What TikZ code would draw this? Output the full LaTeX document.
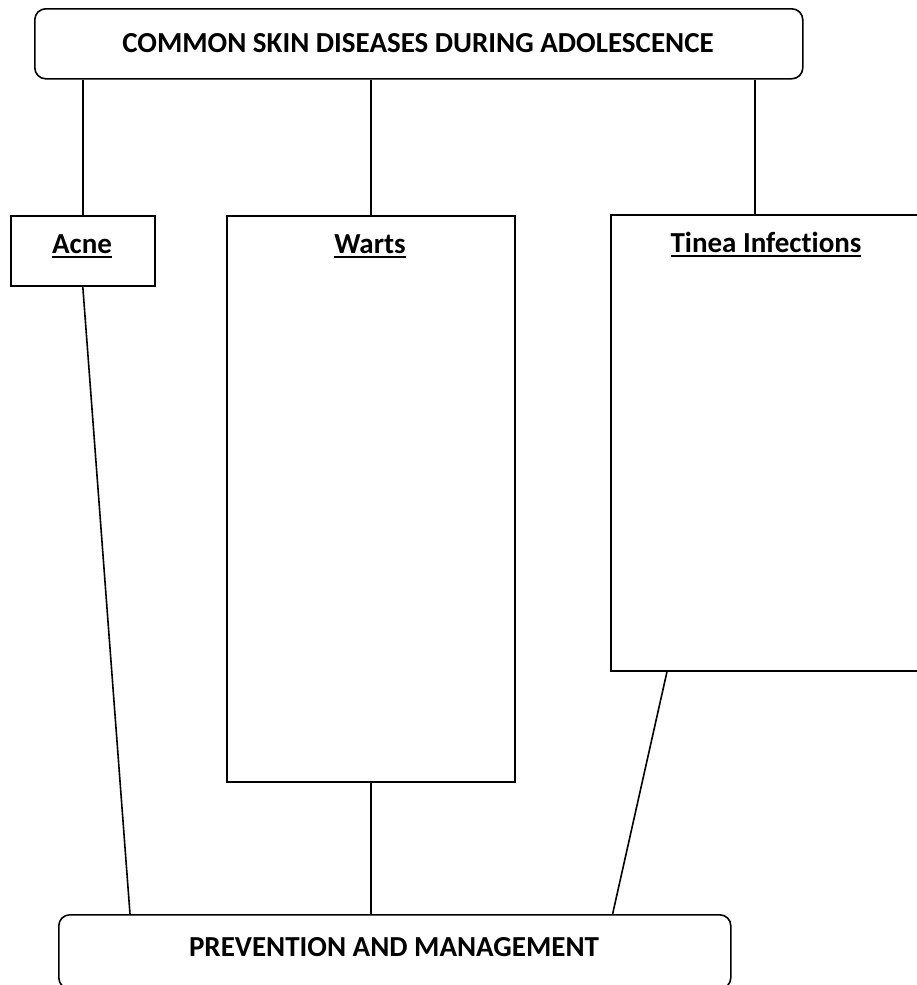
\documentclass[tikz,border=0pt]{standalone}
\usepackage{fontspec}
\setmainfont[Ligatures=NoCommon]{Carlito}
\usetikzlibrary{calc}

% bold heading with a thick underline
\newcommand{\headul}[1]{\setbox0\hbox{#1}\rlap{\rule[-4.5pt]{\wd0}{2pt}}\box0}

\tikzset{
  roundbox/.style={draw, line width=1.6pt, rounded corners=11pt, anchor=north west, inner sep=0pt},
  plainbox/.style={draw, line width=1.6pt, anchor=north west, inner sep=0pt},
  boxtext/.style={font=\fontsize{29}{34}\selectfont\bfseries, inner sep=0pt},
  link/.style={line width=1.6pt},
}

\begin{document}
\begin{tikzpicture}[x=1pt, y=-1pt]
  \useasboundingbox (0,0) rectangle (916,985);

  % title and closing boxes
  \node[roundbox, minimum width=768pt, minimum height=70pt] (top) at (34,8) {};
  \node[boxtext] (topT) at (418,43) {COMMON SKIN DISEASES DURING ADOLESCENCE};

  \node[roundbox, minimum width=672pt, minimum height=74pt] (bottom) at (58,914) {};
  \node[boxtext] (bottomT) at (394,947) {PREVENTION AND MANAGEMENT};

  % the three disease boxes
  \node[plainbox, minimum width=144pt, minimum height=70pt] (acne) at (10,215) {};
  \node[boxtext] (acneT) at (82,246) {\headul{Acne}};

  \node[plainbox, minimum width=288pt, minimum height=566pt] (warts) at (226,215) {};
  \node[boxtext] (wartsT) at (370,246) {\headul{Warts}};

  \node[plainbox, minimum width=312pt, minimum height=456pt] (tinea) at (610,214) {};
  \node[boxtext] (tineaT) at (766,245) {\headul{Tinea Infections}};

  % connectors from the title box
  \draw[link] (top.south -| acne.north) -- (acne.north);
  \draw[link] (top.south -| warts.north) -- (warts.north);
  \draw[link] ($(top.south -| tinea.north)+(-12,0)$) -- ($(tinea.north)+(-12,0)$);

  % connectors into the closing box
  \draw[link] (acne.south) -- ($(bottom.north west)+(72,0)$);
  \draw[link] (warts.south) -- (bottom.north -| warts.south);
  \draw[link] ($(tinea.south west)+(57,0)$) -- ($(bottom.north east)+(-119,0)$);
\end{tikzpicture}
\end{document}
